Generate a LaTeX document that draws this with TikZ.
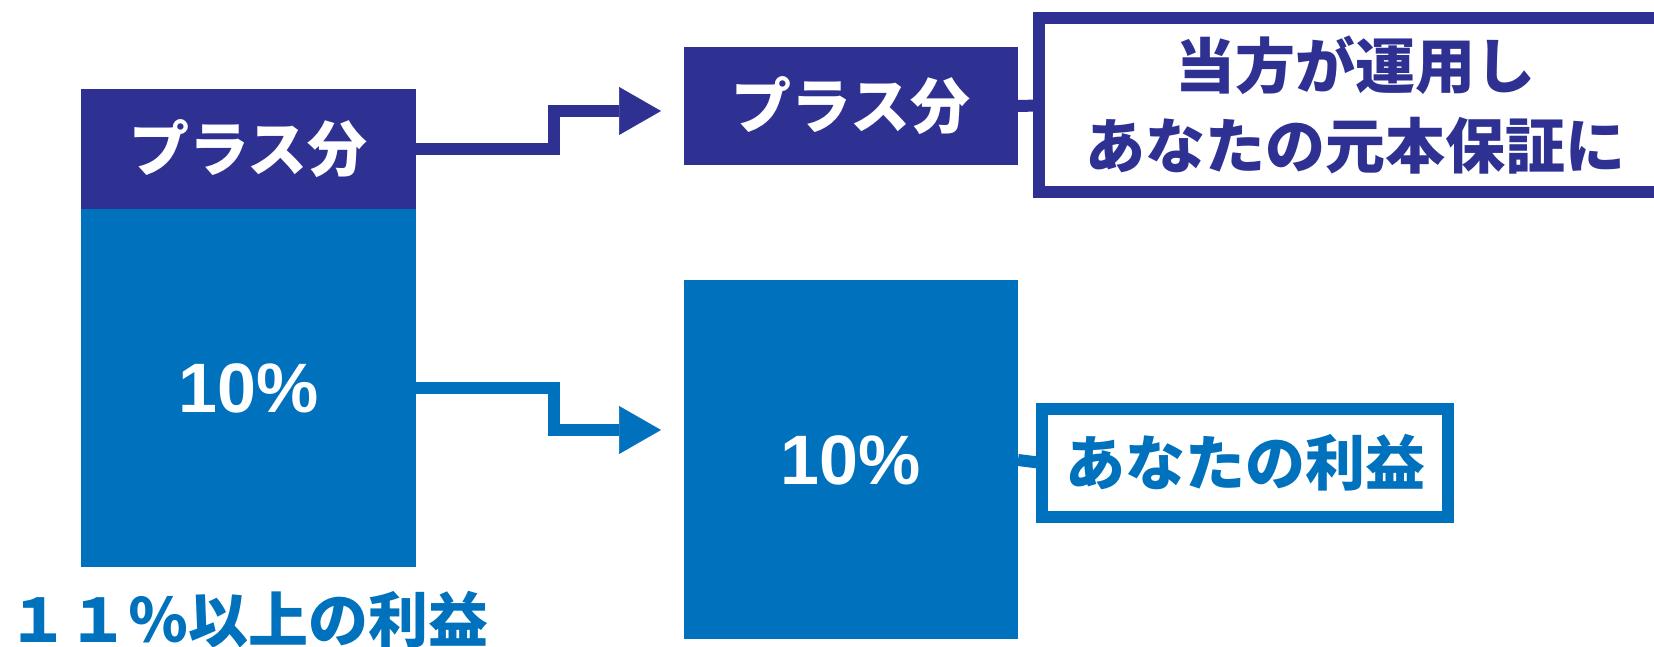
\documentclass[tikz,border=0pt]{standalone}
\usepackage{fontspec}
\setmainfont{Liberation Sans}
\newfontfamily\jpfont{Noto Sans CJK JP}
\usetikzlibrary{arrows.meta}

\definecolor{navy}{HTML}{2E3192}
\definecolor{sea}{HTML}{0071BC}

\tikzset{
	block/.style={inner sep=0pt, outer sep=0pt, text=white},
	jp/.style={font=\jpfont\bfseries\fontsize{60}{80}\selectfont},
	pct/.style={font=\bfseries\fontsize{70}{70}\selectfont},
	frame/.style={draw=#1, line width=12pt, fill=white, inner sep=0pt, outer sep=0pt, text=#1},
	link/.style={draw=#1, line width=12pt},
	flow/.style={color=#1, line width=12pt, -{Triangle[length=42pt,width=48pt,line width=0.5pt,fill=#1]}},
}

\begin{document}
\begin{tikzpicture}[x=1pt,y=1pt]
			%%%%% START %%%%%
			\clip (0,0) rectangle (1654,647);
			
			% left column
			\node[block, fill=navy, minimum width=335pt, minimum height=120pt, jp] (plusL) at (248.5,498) {プラス分};
			\node[block, fill=sea, minimum width=335pt, minimum height=358pt, pct] (tenL) at (248.5,259) {10\%};
			\node[jp, text=sea, inner sep=0pt] (total) at (249,27) {１１％以上の利益};
			
			% middle column
			\node[block, fill=navy, minimum width=334pt, minimum height=118pt, jp] (plusR) at (851,541) {プラス分};
			\node[block, fill=sea, minimum width=334pt, minimum height=359pt, pct] (tenR) at (851,187) {10\%};
			
			% right column
			\node[frame=navy, minimum width=633pt, minimum height=174pt, jp, align=center] (useBox) at (1355,541.5) {当方が運用し\\あなたの元本保証に};
			\node[frame=sea, minimum width=406pt, minimum height=108pt, jp] (gainBox) at (1245,184) {あなたの利益};
			
			% arrows
			\coordinate (tipA) at (661,536);
			\coordinate (tipB) at (661,217);
			\draw[flow=navy] (plusL.east) -- ++(138,0) |- (tipA);
			\draw[flow=sea] (tenL.east) -- ++(138,0) |- (tipB);
			
			\draw[link=navy] (plusR.east) -- (useBox.west);
			\draw[link=sea] (tenR.east) -- (gainBox.west);
			
			%%%%% END %%%%%
\end{tikzpicture}
\end{document}
